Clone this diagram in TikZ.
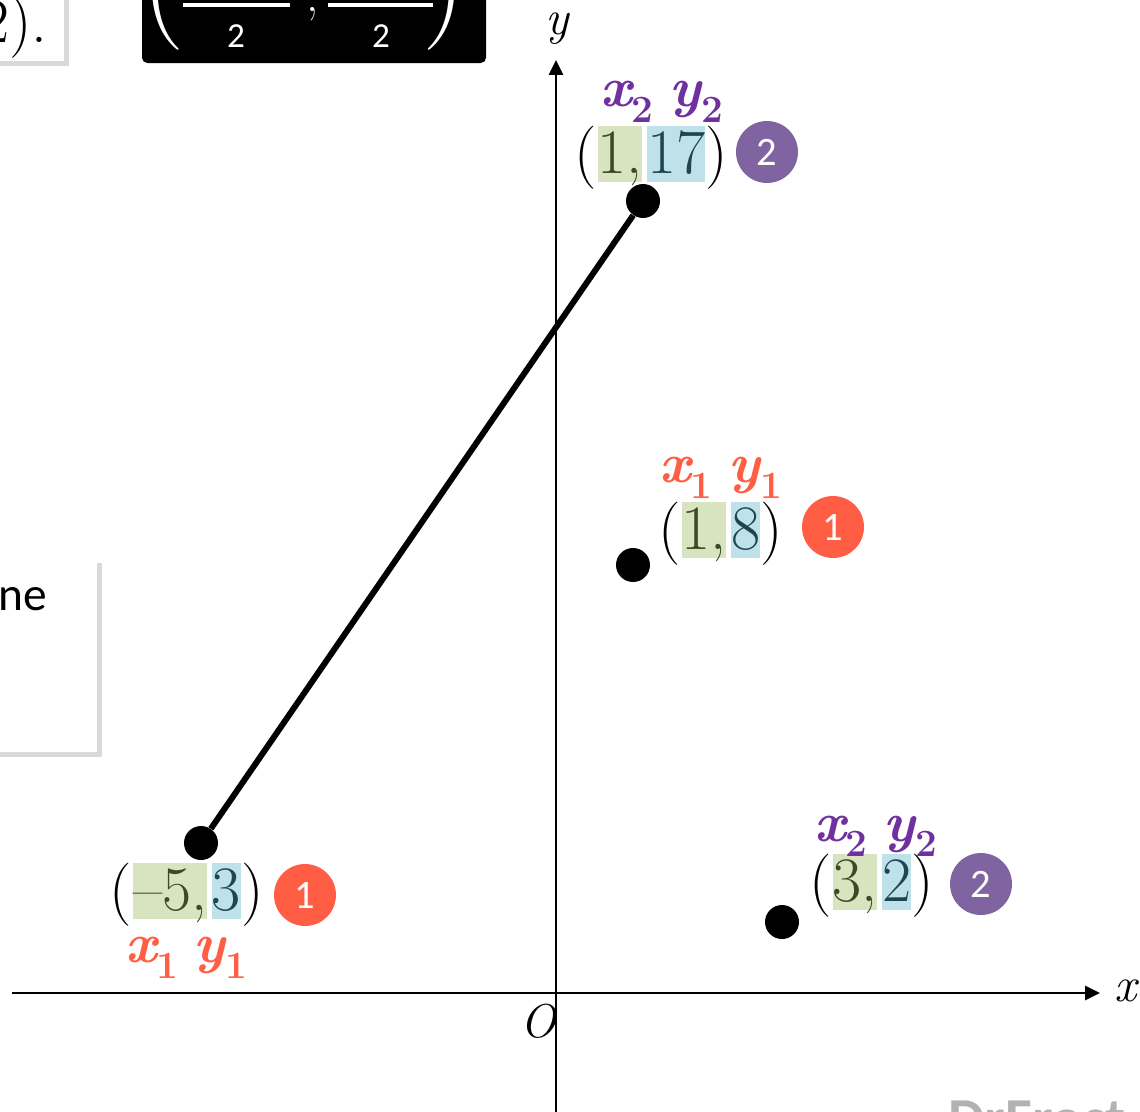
\documentclass[tikz,border=0pt]{standalone}
\usepackage{fontspec}
\newfontfamily\badgefont{Carlito}
\usetikzlibrary{arrows.meta,positioning,shadows}
\definecolor{ptred}{HTML}{FF5E45}
\definecolor{ptpurple}{HTML}{7030A0}
\definecolor{badgepurple}{HTML}{8064A2}
\definecolor{hlgreen}{HTML}{D8E4BF}
\definecolor{hlblue}{HTML}{BFE2EA}
\definecolor{xdark}{HTML}{3B4A24}
\definecolor{ydark}{HTML}{1E4652}
\newcommand{\subvar}[2]{{\bfseries\itshape #1}\raisebox{-0.28em}{\bfseries\fontsize{22}{24}\selectfont #2}}
\tikzset{
    ptdot/.style={circle, fill=black, inner sep=0pt, minimum size=0.68cm},
    coordtxt/.style={font=\fontsize{36}{40}\selectfont, text height=27pt, text depth=4.5pt,
        inner xsep=0pt, inner ysep=0pt},
    xbox/.style={coordtxt, fill=hlgreen, text=xdark},
    ybox/.style={coordtxt, fill=hlblue, text=ydark},
    badge/.style={circle, inner sep=0pt, minimum size=1.24cm, text=white,
        font=\badgefont\fontsize{23}{26}\selectfont},
    sublab/.style={font=\fontsize{32}{36}\selectfont, text height=16pt, text depth=8pt,
        inner sep=0pt},
    axis/.style={-{Triangle[length=0.3cm, width=0.28cm]}, line width=1.6pt},
    seg/.style={line width=3.4pt},
    panel/.style={fill=white, drop shadow={shadow xshift=3pt, shadow yshift=-3pt, opacity=0.3}}
}

\begin{document}
\begin{tikzpicture}[x=0.02cm, y=-0.02cm]
\useasboundingbox (0,0) rectangle (1140,1112);
% panels cut by the page edge
\path[panel] (-30,-30) rectangle (64,61);
\node[coordtxt, anchor=base west] (prev) at (-20,42) {2).};
\fill[black, rounded corners=3pt] (142,-30) rectangle (486,63);
\node[font=\fontsize{70}{70}\selectfont, text=white, inner sep=0pt, anchor=base west] (lpar) at (141,19) {(};
\node[font=\fontsize{70}{70}\selectfont, text=white, inner sep=0pt, anchor=base west] (rpar) at (422,19) {)};
\fill[white] (183,3) rectangle (290,7);
\fill[white] (328,3) rectangle (433,7);
\node[font=\fontsize{28}{30}\selectfont, text=white, inner sep=0pt, anchor=base] (comma) at (313,11) {,};
\node[font=\badgefont\fontsize{20}{22}\selectfont, text=white] (den1) at (236,36) {2};
\node[font=\badgefont\fontsize{20}{22}\selectfont, text=white] (den2) at (381,36) {2};
\path[panel] (-30,558) rectangle (97,752);
\node[font=\badgefont\fontsize{27}{30}\selectfont, inner sep=0pt, anchor=base west] (cut) at (-2,610) {ne};

% axes
\coordinate (xstart) at (12,993);
\coordinate (xend) at (1100,993);
\coordinate (ystart) at (556,1120);
\coordinate (yend) at (556,60);
\draw[axis] (xstart) -- (xend);
\draw[axis] (ystart) -- (yend);
\node[font=\itshape\fontsize{28}{30}\selectfont] (xlab) at (1126,991) {x};
\node[font=\itshape\fontsize{28}{30}\selectfont] (ylab) at (557,29) {y};
\node[font=\itshape\fontsize{27}{30}\selectfont] (orig) at (538,1021) {O};

% points
\node[ptdot] (pa) at (201,843) {};
\node[ptdot] (pb) at (643,201) {};
\node[ptdot] (pc) at (633,565) {};
\node[ptdot] (pd) at (782,922) {};
\draw[seg] (pa) -- (pb);

% (-5,3)
\node[xbox] (ax) at (170,891) {–5,};
\node[ybox, right=0.08cm of ax] (ay) {3};
\node[coordtxt, left=0pt of ax] (al) {(};
\node[coordtxt, right=0pt of ay] (ar) {)};
\node[badge, fill=ptred] (an) at (305,895) {1};
\node[sublab, text=ptred, below=0.3cm of ax, xshift=-0.36cm] (axl) {\subvar{x}{1}};
\node[sublab, text=ptred, below=0.3cm of ay, xshift=-0.12cm] (ayl) {\subvar{y}{1}};

% (1,17)
\node[xbox] (bx) at (620,154) {1,};
\node[ybox, right=0.08cm of bx] (by) {17};
\node[coordtxt, left=0pt of bx] (bl) {(};
\node[coordtxt, right=0pt of by] (br) {)};
\node[badge, fill=badgepurple] (bn) at (767,152) {2};
\node[sublab, text=ptpurple, above=0.1cm of bx, xshift=0.14cm] (bxl) {\subvar{x}{2}};
\node[sublab, text=ptpurple, above=0.1cm of by, xshift=0.4cm] (byl) {\subvar{y}{2}};

% (1,8)
\node[xbox] (cx) at (704,530) {1,};
\node[ybox, right=0.08cm of cx] (cy) {8};
\node[coordtxt, left=0pt of cx] (cl) {(};
\node[coordtxt, right=0pt of cy] (cr) {)};
\node[badge, fill=ptred] (cn) at (833,527) {1};
\node[sublab, text=ptred, above=0.1cm of cx, xshift=-0.36cm] (cxl) {\subvar{x}{1}};
\node[sublab, text=ptred, above=0.1cm of cy, xshift=0.2cm] (cyl) {\subvar{y}{1}};

% (3,2)
\node[xbox] (dx) at (855,882) {3,};
\node[ybox, right=0.08cm of dx] (dy) {2};
\node[coordtxt, left=0pt of dx] (dl) {(};
\node[coordtxt, right=0pt of dy] (dr) {)};
\node[badge, fill=badgepurple] (dn) at (981,884) {2};
\node[sublab, text=ptpurple, above=-0.03cm of dx, xshift=-0.28cm] (dxl) {\subvar{x}{2}};
\node[sublab, text=ptpurple, above=-0.03cm of dy, xshift=0.28cm] (dyl) {\subvar{y}{2}};

\node[font=\badgefont\bfseries\fontsize{33}{36}\selectfont, text=gray!60, inner sep=0pt,
    anchor=base west] (mark) at (948,1138) {DrFrost};
\end{tikzpicture}
\end{document}
